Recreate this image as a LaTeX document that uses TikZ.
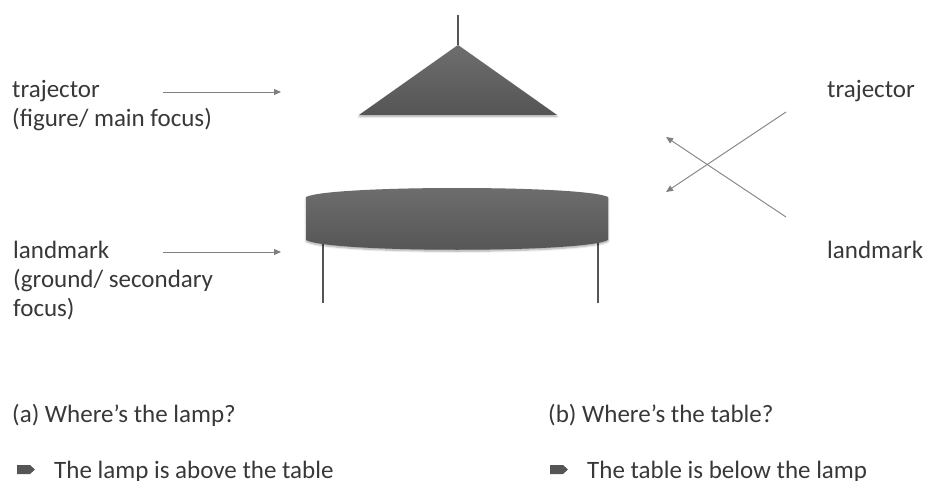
\documentclass[tikz,border=0pt]{standalone}
\usepackage{fontspec}
\setmainfont{Carlito}
\usetikzlibrary{arrows.meta,shadows.blur}
\definecolor{txt}{HTML}{383838}
\definecolor{ln}{HTML}{7F7F7F}
\definecolor{shapetop}{HTML}{6E6E6E}
\definecolor{shapebot}{HTML}{555555}
\tikzset{
  lbl/.style={anchor=base west, inner sep=0pt, text=txt, font=\fontsize{25}{29}\selectfont},
  ptr/.style={draw=ln, line width=0.9pt, -{Triangle[length=7pt,width=6pt]}},
  solid shape/.style={top color=shapetop, bottom color=shapebot, draw=none,
     blur shadow={shadow xshift=0pt, shadow yshift=-1.5pt, shadow blur steps=6, shadow opacity=35}},
  leg/.style={draw=shapebot, line width=1.6pt},
  bulletmark/.style={fill=shapebot, draw=none}
}
\begin{document}
\begin{tikzpicture}[x=1pt,y=-1pt]
\useasboundingbox (0,0) rectangle (928,481);
% lamp
\coordinate (cord) at (458,15);
\coordinate (apex) at (458,45);
\draw[leg] (cord) -- (apex);
\path[solid shape] (apex) -- (557,115) -- (359,115) -- cycle;
% table legs
\coordinate (legLtop) at (323,238);
\coordinate (legLbot) at (323,303);
\coordinate (legRtop) at (598,238);
\coordinate (legRbot) at (598,303);
\draw[leg] (legLtop) -- (legLbot);
\draw[leg] (legRtop) -- (legRbot);
% table top
\path[solid shape] (306,197) .. controls (330,185) and (584,185) .. (608,197)
   -- (608,240) .. controls (584,253) and (330,253) .. (306,240) -- cycle;
% left labels
\node[lbl] (t1) at (12,98) {trajector};
\node[lbl] (t2) at (12,127) {(figure/ main focus)};
\node[lbl] (l1) at (13,258) {landmark};
\node[lbl] (l2) at (13,287) {(ground/ secondary};
\node[lbl] (l3) at (13,316) {focus)};
\coordinate (a1s) at (163,92);
\coordinate (a1e) at (281,92);
\coordinate (a2s) at (163,252);
\coordinate (a2e) at (281,252);
\draw[ptr] (a1s) -- (a1e);
\draw[ptr] (a2s) -- (a2e);
% right labels
\node[lbl] (rt) at (827,98) {trajector};
\node[lbl] (rl) at (827,258) {landmark};
\coordinate (c1s) at (786,112);
\coordinate (c1e) at (666,192);
\coordinate (c2s) at (786,217);
\coordinate (c2e) at (666,137);
\draw[ptr] (c1s) -- (c1e);
\draw[ptr] (c2s) -- (c2e);
% bottom texts
\node[lbl] (qa) at (12,422) {(a) Where’s the lamp?};
\node[lbl] (qb) at (548,422) {(b) Where’s the table?};
\path[bulletmark] (17,465) -- (30,465) -- (35,469.5) -- (30,474) -- (17,474) -- cycle;
\path[bulletmark] (550,465) -- (563,465) -- (568,469.5) -- (563,474) -- (550,474) -- cycle;
\node[lbl] (ba) at (54,478) {The lamp is above the table};
\node[lbl] (bb) at (587,478) {The table is below the lamp};
\end{tikzpicture}
\end{document}
